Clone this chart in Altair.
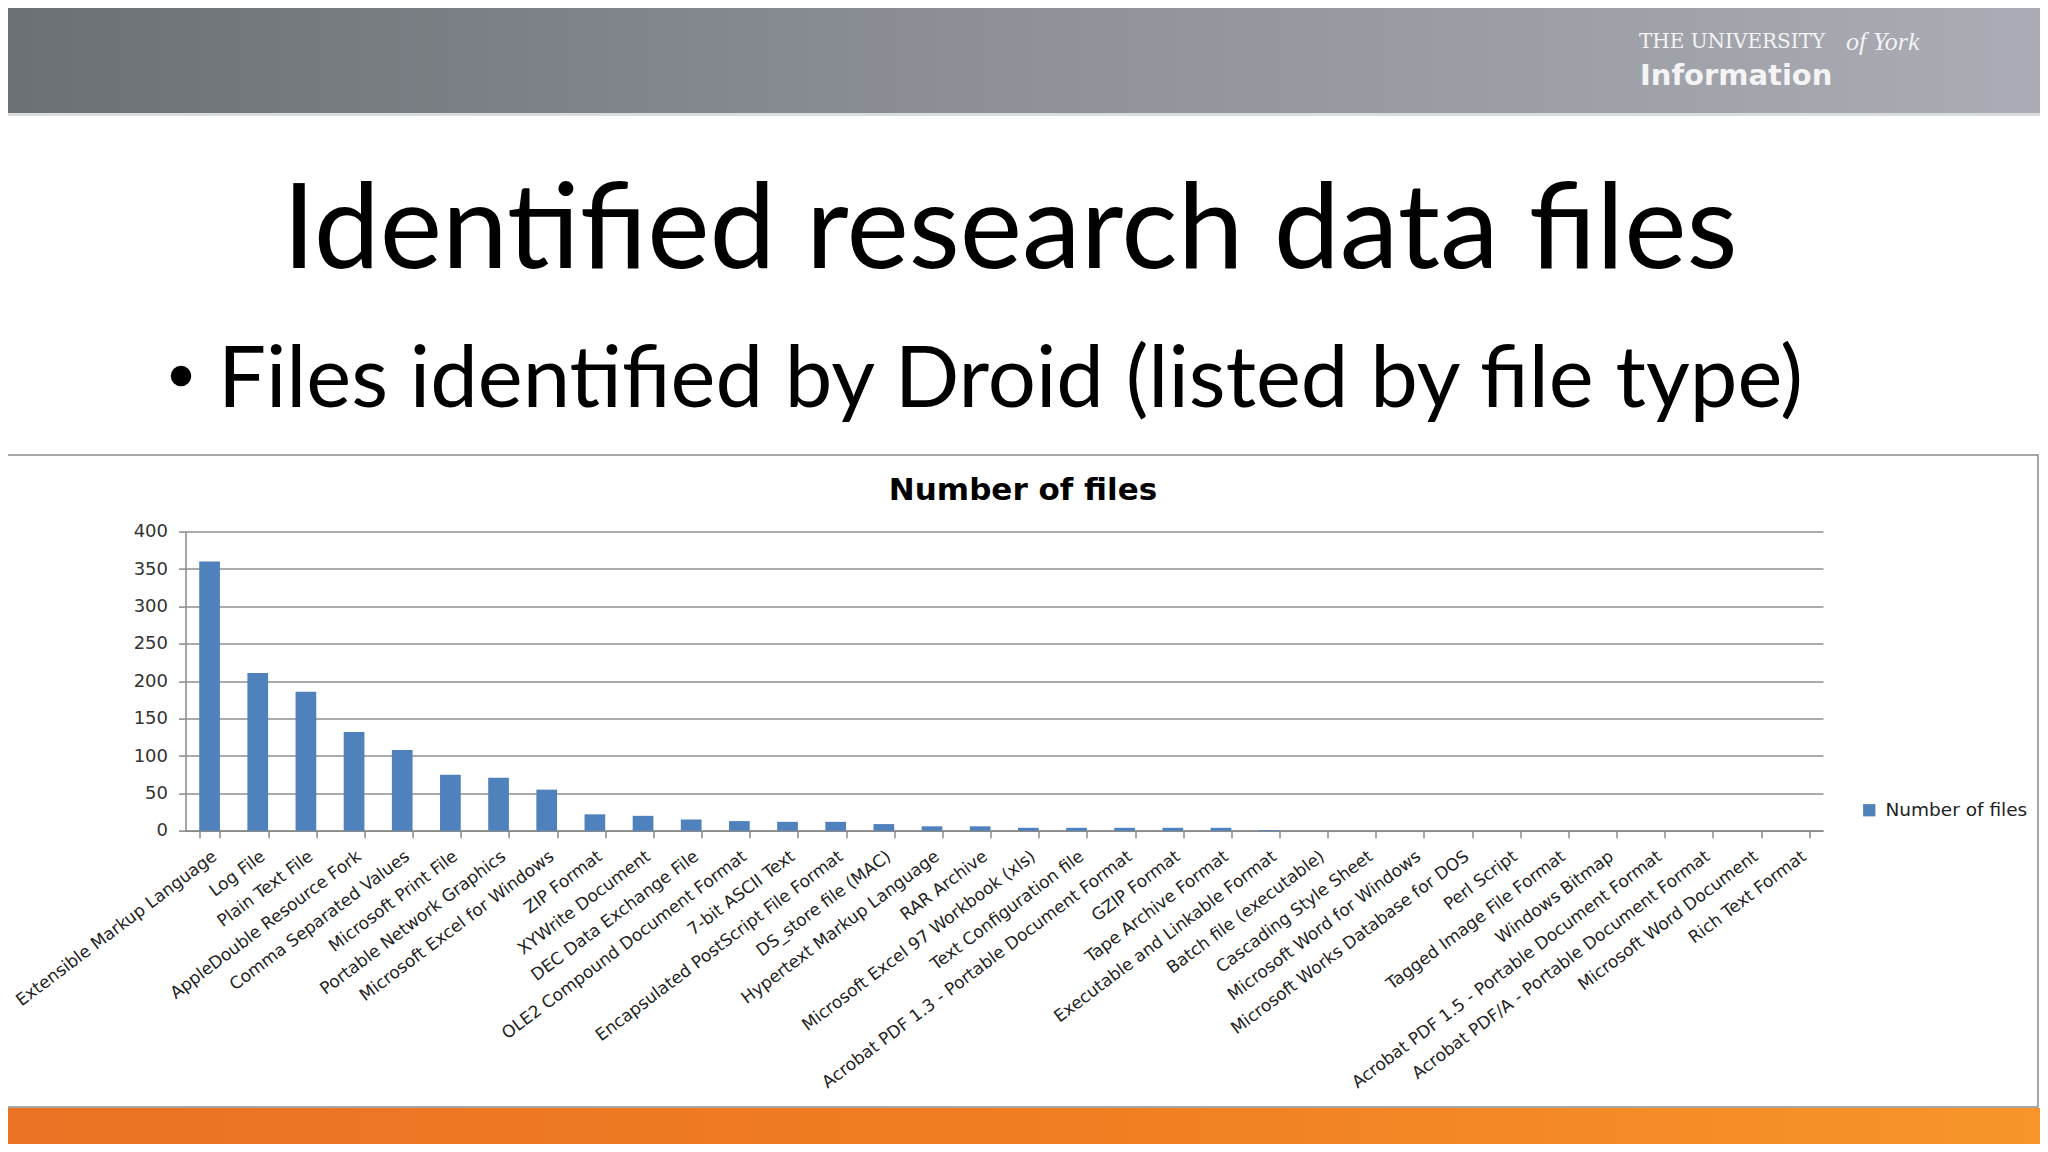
import altair as alt
import pandas as pd

# ---------------- data ----------------
file_types = [
    "Extensible Markup Language", "Log File", "Plain Text File",
    "AppleDouble Resource Fork", "Comma Separated Values", "Microsoft Print File",
    "Portable Network Graphics", "Microsoft Excel for Windows", "ZIP Format",
    "XYWrite Document", "DEC Data Exchange File", "OLE2 Compound Document Format",
    "7-bit ASCII Text", "Encapsulated PostScript File Format", "DS_store file (MAC)",
    "Hypertext Markup Language", "RAR Archive", "Microsoft Excel 97 Workbook (xls)",
    "Text Configuration file", "Acrobat PDF 1.3 - Portable Document Format",
    "GZIP Format", "Tape Archive Format", "Executable and Linkable Format",
    "Batch file (executable)", "Cascading Style Sheet", "Microsoft Word for Windows",
    "Microsoft Works Database for DOS", "Perl Script", "Tagged Image File Format",
    "Windows Bitmap", "Acrobat PDF 1.5 - Portable Document Format",
    "Acrobat PDF/A - Portable Document Format", "Microsoft Word Document",
    "Rich Text Format",
]
file_counts = [360, 211, 186, 132, 108, 75, 71, 55, 22, 20, 15, 13, 12, 12, 9, 6, 6,
               4, 4, 4, 4, 4, 1, 0, 0, 0, 0, 0, 0, 0, 0, 0, 0, 0]
series_name = "Number of files"
y_ticks = [0, 50, 100, 150, 200, 250, 300, 350, 400]

slide_title = "Identified research data files"
bullet_text = "Files identified by Droid (listed by file type)"
logo_top = "THE UNIVERSITY"
logo_york = "of York"
logo_unit = "Information"
chart_title = "Number of files"

# ---------------- layout helpers ----------------
OX, OY = 185.5, 531.6          # plot origin in page pixels
W, H = 1637.5, 299.2
PAD_L, PAD_T = OX - 8, OY - 8
PAD_R = 2032 - PAD_L - W
PAD_B = 1136 - PAD_T - H


def px(x):
    return x - OX


def py(y):
    return y - OY


one = pd.DataFrame({"k": [0]})


def rect(x1, y1, x2, y2, **kw):
    return alt.Chart(one).mark_rect(clip=False, **kw).encode(
        x=alt.value(px(x1)), x2=alt.value(px(x2)),
        y=alt.value(py(y1)), y2=alt.value(py(y2)))


def text(t, x, y, size, font, weight="normal", color="#000000", align="left", style="normal"):
    return alt.Chart(pd.DataFrame({"t": [t]})).mark_text(
        align=align, baseline="alphabetic", font=font, fontSize=size,
        fontWeight=weight, fontStyle=style, color=color, clip=False
    ).encode(x=alt.value(px(x)), y=alt.value(py(y)), text="t:N")


header = rect(0, 0, 2048, 114, color=alt.LinearGradient(
    gradient="linear", x1=0, x2=1, y1=0, y2=0,
    stops=[alt.GradientStop(color="#6b7075", offset=0),
           alt.GradientStop(color="#8b8f95", offset=0.45),
           alt.GradientStop(color="#abacb5", offset=1)]))
header_line = rect(0, 113, 2048, 116, color="#d9dde0")
footer = rect(0, 1108, 2048, 1152, color=alt.LinearGradient(
    gradient="linear", x1=0, x2=1, y1=0, y2=0,
    stops=[alt.GradientStop(color="#ea7224", offset=0),
           alt.GradientStop(color="#f07d22", offset=0.5),
           alt.GradientStop(color="#f7952a", offset=1)]))
frame = rect(1, 455, 2038, 1107, fillOpacity=0, stroke="#8a8a8a", strokeWidth=1.5)

bullet = alt.Chart(one).mark_point(filled=True, shape="circle", size=420, color="#000000",
                                   opacity=1, clip=False).encode(
    x=alt.value(px(181)), y=alt.value(py(376)))

texts = [
    text(logo_top, 1639, 48, 20, "DejaVu Serif", color="#f4f4f4"),
    text(logo_york, 1846, 50, 26, "Liberation Serif", color="#f4f4f4", style="italic"),
    text(logo_unit, 1640, 85, 29, "DejaVu Sans", weight="bold", color="#f4f4f4"),
    text(slide_title, 1010, 268, 118, "Lato", align="center"),
    text(bullet_text, 218, 407, 85, "Lato"),
    text(chart_title, 1023, 500, 31, "DejaVu Sans", weight="bold", align="center"),
]

df = pd.DataFrame({"type": file_types, "files": file_counts, "series": series_name})

bars = alt.Chart(df).mark_bar().encode(
    x=alt.X("type:N", sort=file_types,
            scale=alt.Scale(paddingInner=0.57, paddingOuter=0.285),
            axis=alt.Axis(title=None, labelAngle=-37, labelAlign="right", labelBaseline="top",
                          labelFont="DejaVu Sans", labelFontSize=17, labelColor="#222222",
                          labelLimit=400, labelOverlap=False, labelPadding=10,
                          tickBand="extent", tickSize=7, tickColor="#888888", tickWidth=1.5,
                          domainColor="#888888", domainWidth=1.5, grid=False)),
    y=alt.Y("files:Q", scale=alt.Scale(domain=[0, 400], nice=False),
            axis=alt.Axis(title=None, values=y_ticks, grid=True, gridColor="#8f8f8f",
                          gridWidth=1.5, tickSize=7, tickColor="#888888", tickWidth=1.5,
                          domainColor="#888888", domainWidth=1.5,
                          labelFont="DejaVu Sans", labelFontSize=18, labelColor="#333333",
                          labelPadding=11)),
    color=alt.Color("series:N", scale=alt.Scale(range=["#4f81bd"]),
                    legend=alt.Legend(title=None, orient="none",
                                      legendX=px(1860), legendY=py(801),
                                      symbolType="square", symbolSize=150,
                                      symbolStrokeWidth=0, labelFont="DejaVu Sans",
                                      labelFontSize=18.5, labelColor="#222222",
                                      labelOffset=7, padding=0)),
)

chart = alt.layer(header, header_line, footer, frame, bullet, *texts, bars).properties(
    width=W, height=H, autosize="none",
    padding={"left": PAD_L, "top": PAD_T, "right": PAD_R, "bottom": PAD_B},
    background="white",
).configure_view(stroke="transparent")

chart.save("out.html", embed_options={"renderer": "svg", "actions": False})
